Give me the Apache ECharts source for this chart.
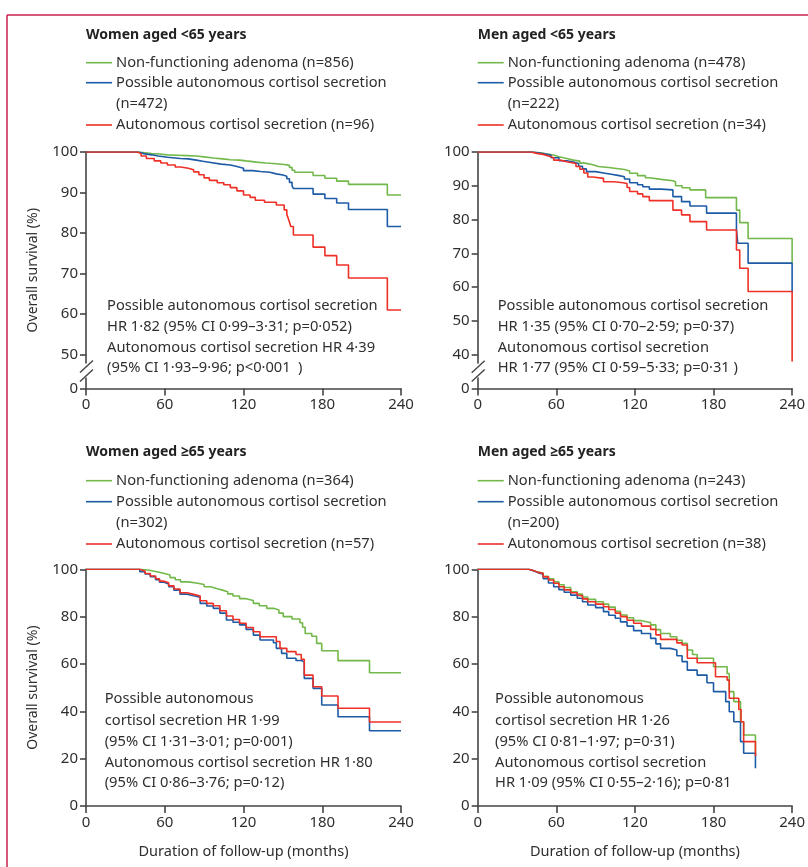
<!DOCTYPE html>
<html>
<head>
<meta charset="utf-8">
<script src="https://cdn.jsdelivr.net/npm/echarts@6/dist/echarts.min.js"></script>
<style>html,body{margin:0;padding:0;background:#fff}#c{width:808px;height:867px}</style>
</head>
<body>
<div id="c"></div>
<script>
// ---------- DATA ----------
const monthTicks = [0, 60, 120, 180, 240];
const panelTitles = ['Women aged <65 years', 'Men aged <65 years', 'Women aged \u226565 years', 'Men aged \u226565 years'];
const groupNames = ['Non-functioning adenoma', 'Possible autonomous cortisol secretion', 'Autonomous cortisol secretion'];
const groupN = [[856, 472, 96], [478, 222, 34], [364, 302, 57], [243, 200, 38]];
const yTicksYoungWomen = [50, 60, 70, 80, 90, 100];
const yTicksYoungMen = [40, 50, 60, 70, 80, 90, 100];
const yTicksOld = [0, 20, 40, 60, 80, 100];

// Women <65
const wYoungNF = [[0,100],[37,100],[40,99.8],[45,99.6],[50,99.5],[56,99.3],[62,99.2],[70,99.1],[77,99.0],[84,98.8],[90,98.5],[97,98.3],[104,98.1],[110,98.0],[117,97.8],[122,97.5],[130,97.3],[137,97.1],[145,96.9],[151,96.7],[155,96.2],[157,95.5],[159,95.0],[173,94.2],[182,93.5],[191,92.8],[200,92.0],[229.6,89.4],[240,89.4]];
const wYoungPACS = [[0,100],[37,100],[40,99.6],[44,99.3],[50,99.0],[55,98.7],[62,98.4],[72,98.3],[78,98.0],[84,97.7],[89,97.4],[95,97.0],[103,96.8],[110,96.4],[115,96.0],[120,95.4],[127,95.2],[133,95.0],[140,94.6],[145,94.3],[150,94.0],[153,93.4],[155,92.5],[157,91.6],[158,91.0],[173,89.6],[182,88.5],[191,87.4],[200,85.8],[229.6,81.6],[240,81.6]];
const wYoungACS = [[0,100],[37,100],[39,99.6],[42,99.0],[46,98.4],[52,97.8],[57,97.3],[62,96.8],[68,96.3],[72,96.0],[78,95.6],[82,95.1],[86,94.4],[90,93.6],[94,93.0],[100,92.4],[105,91.9],[110,91.2],[115,90.4],[120,89.4],[125,88.8],[129,88.1],[136,87.6],[145,86.9],[151,85.7],[153,84.6],[154.5,83.2],[156,81.6],[158,79.5],[173,76.5],[182,74.4],[191,72.1],[200,68.9],[229.6,61.0],[240,61.0]];
// Men <65
const mYoungNF = [[0,100],[38,100],[42,99.8],[48,99.5],[52,99.1],[58,98.6],[62,98.1],[68,97.6],[73,97.3],[78,96.7],[82,96.2],[88,95.7],[92,95.4],[100,95.1],[106,94.8],[112,94.4],[116,93.7],[122,93.0],[128,92.4],[131,91.9],[140,91.5],[149,91.2],[151,90.0],[156,89.4],[162,88.8],[174,86.5],[197.5,82.8],[200,79.1],[206.4,74.4],[240,67.0]];
const mYoungPACS = [[0,100],[38,100],[42,99.7],[47,99.4],[52,99.0],[56,98.3],[62,97.4],[68,97.0],[73,96.6],[77,95.8],[80,95.0],[83,94.2],[90,93.8],[96,93.4],[102,93.0],[108,92.7],[112,92.0],[116,90.9],[122,90.3],[126,89.7],[131,89.0],[140,88.8],[149,86.8],[155.6,85.3],[162,84.0],[174.7,81.9],[197.5,77.1],[198.5,73.0],[206.4,67.1],[240,58.5]];
const mYoungACS = [[0,100],[38,100],[41,99.6],[45,99.3],[50,98.8],[54,98.3],[58,97.6],[63,97.1],[68,96.6],[75,95.7],[78,94.9],[81,93.8],[84,92.6],[88,92.2],[96,91.2],[104,90.9],[111,90.7],[114,89.5],[116,88.3],[122,87.6],[126,86.8],[131,85.6],[149,82.8],[155.6,81.4],[162,79.4],[174.7,76.9],[197.5,71.0],[200,65.6],[206.4,58.7],[240,38.0]];
// Women >=65
const wOldNF = [[0,100],[37,100],[42,99.6],[48,99.0],[54,98.3],[59,97.6],[64,96.5],[68,95.6],[72,94.7],[78,94.2],[84,93.6],[90,92.6],[95,91.8],[100,91.2],[104,90.5],[108,89.6],[112,88.7],[117,87.6],[122,86.8],[127.5,85.6],[132,84.6],[137.7,83.5],[143,82.8],[147,81.5],[150.3,80.0],[157,79.0],[163,77.4],[165,75.5],[167,72.9],[172,71.7],[175.7,68.7],[179.6,65.6],[192,61.4],[216,56.3],[240,56.3]];
const wOldPACS = [[0,100],[37,100],[41,99.0],[45,98.0],[49,96.9],[53,95.6],[56,94.6],[59,93.8],[63,92.6],[67,91.2],[71.6,89.5],[77,88.8],[82,88.2],[87,85.6],[92,84.5],[97,83.5],[102,81.5],[107,78.6],[112,77.6],[117,76.5],[122,74.6],[127.5,72.2],[132.6,70.1],[142.8,69.0],[145,66.6],[149,64.5],[153,62.4],[160,61.5],[164,60.9],[166.3,53.9],[173,49.7],[179.6,42.7],[192,37.7],[216,31.8],[240,31.8]];
const wOldACS = [[0,100],[37,100],[41,99.2],[45,98.2],[49,97.2],[53,96.0],[56,95.0],[59,94.3],[63,93.0],[67,91.7],[71.6,90.1],[77,89.4],[82,88.7],[87,86.7],[92,85.6],[97,84.6],[102,82.5],[107,80.3],[112,78.8],[117,77.2],[122,75.4],[127.5,73.6],[132.6,71.5],[145,69.5],[147.8,66.6],[153,65.2],[160,64.0],[164,62.0],[166.3,55.3],[173,50.4],[179.6,46.5],[192,41.3],[216,35.5],[240,35.5]];
// Men >=65
const mOldNF = [[0,100],[35,100],[39,99.4],[43,98.8],[46,98.3],[50,97.0],[54,96.0],[58,94.7],[62,93.5],[66,92.3],[71,90.5],[76,89.5],[80,88.3],[84,87.3],[90,86.3],[96,85.3],[100,84.0],[105,82.3],[109,80.7],[114,79.5],[119,78.3],[125,77.5],[132,76.5],[136,74.5],[139.6,72.9],[147,71.5],[152,70.0],[156,68.7],[160,65.9],[164,64.0],[167.5,62.4],[180,58.8],[190.4,56.0],[192,48.3],[195.5,44.1],[200.6,35.6],[203,30.0],[212,22.0]];
const mOldPACS = [[0,100],[35,100],[39,99.3],[43,98.6],[46,97.9],[50,96.0],[54,94.2],[58,92.6],[62,91.4],[66,90.3],[71,89.1],[76,87.8],[80,86.3],[84,84.9],[90,83.8],[96,82.1],[100,80.6],[105,79.3],[109,77.8],[114,76.0],[119,74.1],[125,72.9],[132,70.8],[136,68.5],[139.6,66.6],[147,65.9],[152,63.5],[156,61.0],[160,57.4],[167.5,55.3],[175,52.1],[180,48.3],[189.3,44.1],[192,39.8],[195.5,35.6],[200.6,27.2],[203,22.3],[212,16.0]];
const mOldACS = [[0,100],[35,100],[39,99.4],[43,98.7],[46,98.3],[50,96.8],[54,95.5],[58,94.1],[62,92.6],[66,91.3],[71,90.1],[76,88.9],[80,87.5],[84,86.3],[90,85.3],[96,84.2],[100,83.0],[105,81.5],[109,80.0],[114,78.5],[119,77.2],[125,76.0],[132,74.6],[136,72.3],[139.6,70.4],[152,68.9],[156,68.0],[160,62.4],[167.5,60.5],[181.5,54.6],[190.4,53.2],[192,45.5],[199.3,40.8],[201,35.6],[203,27.2],[212,21.0]];

const annotations = [
  ['Possible autonomous cortisol secretion', 'HR 1\u00b782 (95% CI 0\u00b799\u20133\u00b731; p=0\u00b7052)', 'Autonomous cortisol secretion HR 4\u00b739', '(95% CI 1\u00b793\u20139\u00b796; p<0\u00b7001\u2002)'],
  ['Possible autonomous cortisol secretion', 'HR 1\u00b735 (95% CI 0\u00b770\u20132\u00b759; p=0\u00b737)', 'Autonomous cortisol secretion', 'HR 1\u00b777 (95% CI 0\u00b759\u20135\u00b733; p=0\u00b731 )'],
  ['Possible autonomous', 'cortisol secretion HR 1\u00b799', '(95% CI 1\u00b731\u20133\u00b701; p=0\u00b7001)', 'Autonomous cortisol secretion HR 1\u00b780', '(95% CI 0\u00b786\u20133\u00b776; p=0\u00b712)'],
  ['Possible autonomous', 'cortisol secretion HR 1\u00b726', '(95% CI 0\u00b781\u20131\u00b797; p=0\u00b731)', 'Autonomous cortisol secretion', 'HR 1\u00b709 (95% CI 0\u00b755\u20132\u00b716); p=0\u00b781']
];
const xAxisTitle = 'Duration of follow-up (months)';
const yAxisTitle = 'Overall survival (%)';

// ---------- STYLE / LAYOUT ----------
const COLORS = ['#72b84a', '#1d5ba6', '#ee3026'];
const TXT = '#2f2f2f';
const AX = '#444444';
const FONT = '"Noto Sans", "Open Sans", sans-serif';
const panels = [
  {left: 86, top: 152, width: 315, height: 236.5, ymin: 41.6, ticks: [41.6].concat(yTicksYoungWomen), series: [wYoungNF, wYoungPACS, wYoungACS], yName: true, xName: false, brk: [354.5, 388.5]},
  {left: 477.7, top: 152, width: 314.6, height: 236.5, ymin: 30, ticks: [30].concat(yTicksYoungMen), series: [mYoungNF, mYoungPACS, mYoungACS], yName: false, xName: false, brk: [354.7, 388.5]},
  {left: 86, top: 569.3, width: 315, height: 236.7, ymin: 0, ticks: yTicksOld, series: [wOldNF, wOldPACS, wOldACS], yName: true, xName: true},
  {left: 477.7, top: 569.3, width: 314.6, height: 236.7, ymin: 0, ticks: yTicksOld, series: [mOldNF, mOldPACS, mOldACS], yName: false, xName: true}
];

const grid = [], xAxis = [], yAxis = [], series = [], graphic = [];
panels.forEach((p, i) => {
  grid.push({left: p.left, top: p.top, width: p.width, height: p.height, containLabel: false});
  xAxis.push({
    type: 'value', gridIndex: i, min: 0, max: 240, interval: 60,
    axisLine: {show: true, lineStyle: {color: AX, width: 1.6}},
    axisTick: {show: true, length: 7, lineStyle: {color: AX, width: 1.6}, customValues: monthTicks},
    axisLabel: {color: TXT, fontFamily: FONT, fontSize: 15, margin: 9, customValues: monthTicks},
    splitLine: {show: false},
    name: p.xName ? xAxisTitle : '', nameLocation: 'middle', nameGap: 38,
    nameTextStyle: {color: TXT, fontFamily: FONT, fontSize: 14.5}
  });
  const ymin = p.ymin;
  yAxis.push({
    type: 'value', gridIndex: i, min: ymin, max: 100,
    axisLine: {show: true, lineStyle: {color: AX, width: 1.6}},
    axisTick: {show: true, length: 6, lineStyle: {color: AX, width: 1.6}, customValues: p.ticks},
    axisLabel: {color: TXT, fontFamily: FONT, fontSize: 15, margin: 8, customValues: p.ticks,
      formatter: v => (ymin > 0 && Math.abs(v - ymin) < 0.01) ? '0' : String(v)},
    splitLine: {show: false},
    name: p.yName ? yAxisTitle : '', nameLocation: 'middle', nameGap: 46,
    nameTextStyle: {color: TXT, fontFamily: FONT, fontSize: 14}
  });
  p.series.forEach((d, k) => {
    series.push({
      type: 'line', name: groupNames[k] + ' (n=' + groupN[i][k] + ')',
      xAxisIndex: i, yAxisIndex: i, data: d, step: 'end', symbol: 'none',
      lineStyle: {color: COLORS[k], width: 1.6}, itemStyle: {color: COLORS[k]},
      z: 3 + k, animation: false
    });
  });

  // title
  const tx = p.left, tyTitle = i < 2 ? 35 : 451.7;
  graphic.push({type: 'text', x: tx, y: tyTitle, style: {text: panelTitles[i], font: 'bold 14px ' + FONT, fill: '#222', textVerticalAlign: 'middle', verticalAlign: 'middle'}});
  // legend
  const rows = i < 2 ? [62.7, 82.7, 104, 125] : [480.7, 501.7, 522.7, 544];
  const lx0 = p.left, lx1 = p.left + 26, ltx = p.left + 30;
  const legendRows = [
    {y: rows[0], k: 0, text: groupNames[0] + ' (n=' + groupN[i][0] + ')'},
    {y: rows[1], k: 1, text: groupNames[1]},
    {y: rows[2], k: -1, text: '(n=' + groupN[i][1] + ')'},
    {y: rows[3], k: 2, text: groupNames[2] + ' (n=' + groupN[i][2] + ')'}
  ];
  legendRows.forEach(r => {
    if (r.k >= 0) graphic.push({type: 'line', shape: {x1: lx0, y1: r.y, x2: lx1, y2: r.y}, style: {stroke: COLORS[r.k], lineWidth: 1.6}});
    graphic.push({type: 'text', x: ltx, y: r.y, style: {text: r.text, font: '14.7px ' + FONT, fill: TXT, textVerticalAlign: 'middle', verticalAlign: 'middle'}});
  });
  // annotation
  const ax = [107, 497.7, 104.7, 495][i];
  const ays = i < 2 ? [305.7, 327, 347.7, 368.3] : [699.3, 720.7, 741.7, 762.7, 783.3];
  annotations[i].forEach((t, j) => {
    graphic.push({type: 'text', x: ax, y: ays[j], style: {text: t, font: '14.7px ' + FONT, fill: TXT, textVerticalAlign: 'middle', verticalAlign: 'middle'}});
  });
  // axis break
  if (p.brk) {
    const x = p.left, y50 = p.brk[0], y0 = p.brk[1];
    const g1 = y50 + 9, g2 = y0 - 11;
    graphic.push({type: 'rect', shape: {x: x - 3, y: g1, width: 6, height: g2 - g1}, style: {fill: '#fff'}, z: 100});
    graphic.push({type: 'line', shape: {x1: x - 6, y1: g1 + 9, x2: x + 7, y2: g1 - 3}, style: {stroke: AX, lineWidth: 1.4}, z: 101});
    graphic.push({type: 'line', shape: {x1: x - 6, y1: g2 + 4, x2: x + 7, y2: g2 - 8}, style: {stroke: AX, lineWidth: 1.4}, z: 101});
  }
});
// frame
graphic.push({type: 'line', shape: {x1: 7, y1: 15, x2: 808, y2: 15}, style: {stroke: '#c8204c', lineWidth: 1.5}});
graphic.push({type: 'line', shape: {x1: 7, y1: 15, x2: 7, y2: 867}, style: {stroke: '#c8204c', lineWidth: 1.5}});

const chart = echarts.init(document.getElementById('c'), null, {renderer: 'canvas'});
chart.setOption({
  animation: false,
  backgroundColor: '#fff',
  textStyle: {fontFamily: FONT},
  grid, xAxis, yAxis, series, graphic
});
</script>
</body>
</html>
